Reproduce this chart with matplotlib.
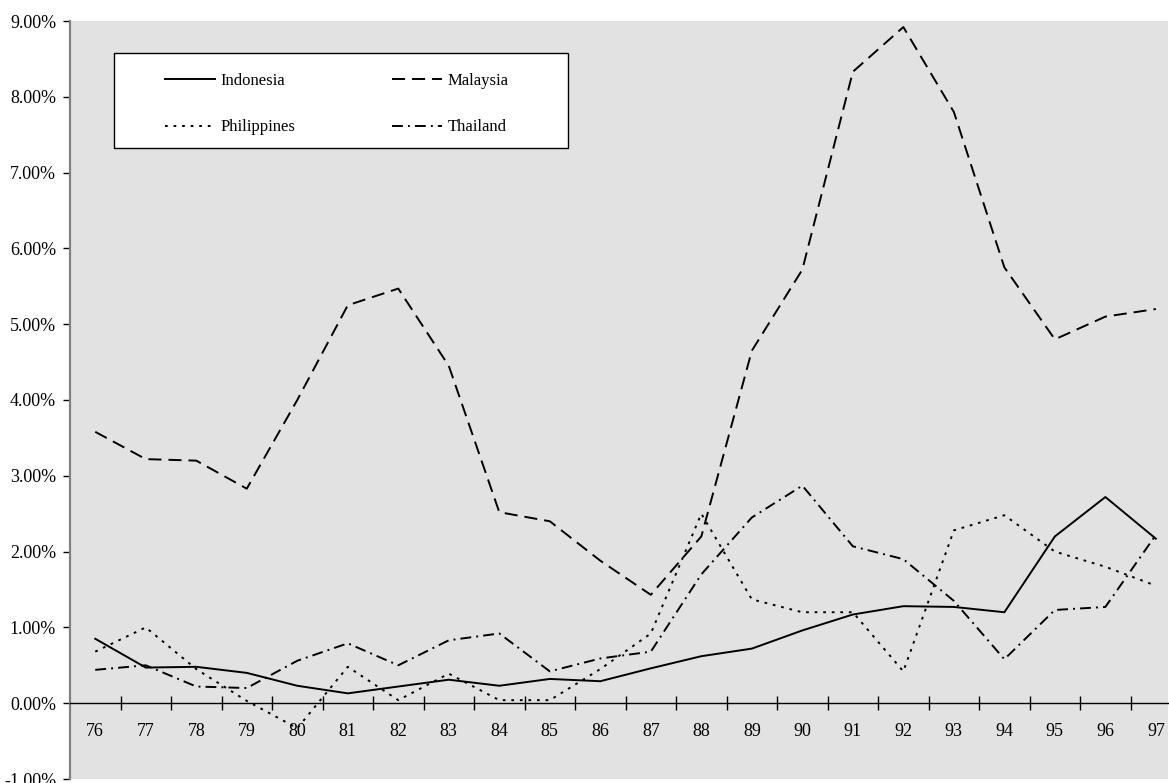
import matplotlib
matplotlib.use('Agg')
import matplotlib.pyplot as plt
from matplotlib.patches import Rectangle
from matplotlib.ticker import FuncFormatter
import numpy as np

years = ['76', '77', '78', '79', '80', '81', '82', '83', '84', '85', '86',
         '87', '88', '89', '90', '91', '92', '93', '94', '95', '96', '97']

# values in percent
indonesia = [0.85, 0.47, 0.48, 0.40, 0.23, 0.13, 0.22, 0.31, 0.23, 0.32, 0.29,
             0.46, 0.62, 0.72, 0.96, 1.17, 1.28, 1.27, 1.20, 2.20, 2.72, 2.17]
malaysia = [3.58, 3.22, 3.20, 2.83, 4.00, 5.25, 5.47, 4.45, 2.52, 2.40, 1.88,
            1.43, 2.20, 4.65, 5.72, 8.33, 8.92, 7.80, 5.75, 4.80, 5.10, 5.20]
philippines = [0.68, 1.00, 0.45, 0.03, -0.33, 0.48, 0.04, 0.39, 0.04, 0.04, 0.45,
               0.92, 2.50, 1.37, 1.20, 1.20, 0.42, 2.28, 2.48, 2.00, 1.80, 1.55]
thailand = [0.44, 0.50, 0.22, 0.20, 0.56, 0.79, 0.50, 0.83, 0.92, 0.42, 0.59,
            0.68, 1.70, 2.45, 2.87, 2.07, 1.90, 1.35, 0.58, 1.23, 1.27, 2.22]

plt.rcParams['font.family'] = ['Liberation Serif', 'DejaVu Serif']
plt.rcParams['font.size'] = 13

fig = plt.figure(figsize=(11.69, 7.83), dpi=100)
ax = fig.add_axes([70 / 1169, 4 / 783, 1098 / 1169, 758 / 783])
ax.set_facecolor('#e2e2e2')

x = np.arange(len(years))
lw = 1.4
l_ind, = ax.plot(x, indonesia, color='black', lw=lw, label='Indonesia')
l_mal, = ax.plot(x, malaysia, color='black', lw=lw, dashes=(6.7, 3.6), label='Malaysia')
l_phi, = ax.plot(x, philippines, color='black', lw=lw, dashes=(1.4, 3.0), label='Philippines')
l_tha, = ax.plot(x, thailand, color='black', lw=lw, dashes=(5.6, 2.6, 1.0, 2.6), label='Thailand')

ax.set_xlim(-0.5, 21.24)
ax.set_ylim(-1, 9)

# axes styling
ax.spines['top'].set_visible(False)
ax.spines['right'].set_visible(False)
ax.spines['left'].set_color('#808080')
ax.spines['left'].set_linewidth(1.6)
ax.spines['bottom'].set_position(('data', 0))
ax.spines['bottom'].set_linewidth(1.0)

ax.set_yticks(np.arange(-1, 10, 1))
ax.yaxis.set_major_formatter(FuncFormatter(lambda v, p: f'{v:.2f}%'))
ax.tick_params(axis='y', direction='out', length=5, width=1, pad=5, colors='black')

ax.set_xticks(x)
ax.set_xticklabels(years)
ax.tick_params(axis='x', which='major', length=0, pad=14)
ax.set_xticks(np.arange(0.5, 21, 1), minor=True)
ax.tick_params(axis='x', which='minor', direction='inout', length=10, width=1)

# legend box
box = Rectangle((0.040, 0.8325), 0.4136, 0.1255, transform=ax.transAxes,
                facecolor='white', edgecolor='black', lw=1, zorder=3)
ax.add_patch(box)
handles = [l_ind, l_phi, l_mal, l_tha]
leg = ax.legend(handles, [h.get_label() for h in handles], ncol=2,
                loc='upper left', bbox_to_anchor=(0.0865, 0.932),
                frameon=False, borderpad=0, borderaxespad=0,
                handlelength=3.0, handletextpad=0.35, columnspacing=5.75,
                labelspacing=1.85, fontsize=12)
leg.set_zorder(4)

fig.savefig('out.png', dpi=100)
